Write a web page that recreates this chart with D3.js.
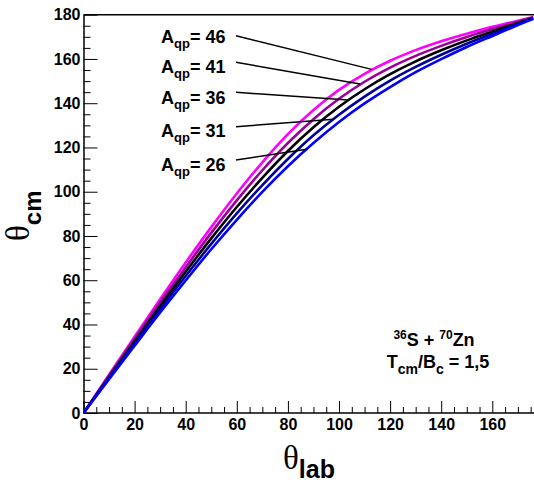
<!DOCTYPE html>
<html>
<head>
<meta charset="utf-8">
<script src="https://cdn.jsdelivr.net/npm/d3@7"></script>
<style>
  html, body { margin: 0; padding: 0; background: #fff; }
  svg { display: block; }
  text { font-family: "Liberation Sans", Arial, sans-serif; font-weight: bold; fill: #000; }
</style>
</head>
<body>
<svg id="chart" width="534" height="484"></svg>
<script>
// ---- data ----
const thetaLab = [0, 10, 20, 30, 40, 50, 60, 70, 80, 90, 100, 110, 120, 130, 140, 150, 160, 170, 176];
const cmA46 = [0, 17.3, 34.5, 51.4, 68.0, 84.0, 99.2, 113.3, 126.0, 136.9, 146.0, 153.3, 159.2, 164.0, 168.0, 171.4, 174.5, 177.3, 178.9];
const cmA41 = [0, 16.8, 33.5, 49.9, 65.9, 81.4, 96.1, 109.7, 122.0, 132.8, 142.0, 149.7, 156.1, 161.4, 165.9, 169.9, 173.5, 176.8, 178.7];
const cmA36 = [0, 16.3, 32.4, 48.4, 63.9, 78.9, 93.1, 106.3, 118.4, 129.1, 138.4, 146.3, 153.1, 158.9, 163.9, 168.4, 172.4, 176.3, 178.5];
const cmA31 = [0, 15.8, 31.4, 46.9, 61.9, 76.4, 90.2, 103.0, 114.8, 125.5, 134.8, 143.0, 150.2, 156.4, 161.9, 166.9, 171.4, 175.8, 178.3];
const cmA26 = [0, 15.3, 30.4, 45.4, 59.9, 74.0, 87.3, 99.9, 111.5, 122.0, 131.5, 139.9, 147.3, 154.0, 159.9, 165.4, 170.4, 175.3, 178.1];
const seriesNames = ["46", "41", "36", "31", "26"];
const seriesValues = [cmA46, cmA41, cmA36, cmA31, cmA26];
// points on each curve where the label pointer ends (θlab, θcm)
const pointerLab = [112.8, 108.2, 103.6, 97.8, 87.4];
const pointerCm  = [155.3, 148.7, 141.4, 132.7, 119.2];
const xTickValues = [0, 20, 40, 60, 80, 100, 120, 140, 160];
const yTickValues = [0, 20, 40, 60, 80, 100, 120, 140, 160, 180];

// ---- styles / layout ----
const colors = ["#ff00ff", "#990099", "#000000", "#000099", "#0000ff"];
const svg = d3.select("#chart");
const x = d3.scaleLinear().domain([0, 176]).range([83.5, 533.2]);
const y = d3.scaleLinear().domain([0, 180]).range([413, 14.7]);

// frame top line
svg.append("line").attr("x1", x(0)).attr("x2", 534).attr("y1", y(180)).attr("y2", y(180))
  .attr("stroke", "#000").attr("stroke-width", 1.5);

// minor ticks
const xMinor = d3.range(0, 177, 5).filter(v => v % 20 !== 0);
const yMinor = d3.range(0, 181, 5).filter(v => v % 20 !== 0);
svg.append("g").attr("transform", `translate(0,${y(0)})`)
  .call(d3.axisBottom(x).tickValues(xMinor).tickSize(-6).tickFormat(""))
  .call(g => g.select(".domain").remove())
  .selectAll("line").attr("stroke", "#000");
svg.append("g").attr("transform", `translate(${x(0)},0)`)
  .call(d3.axisLeft(y).tickValues(yMinor).tickSize(-7).tickFormat(""))
  .call(g => g.select(".domain").remove())
  .selectAll("line").attr("stroke", "#000");

// major axes
const xAxis = svg.append("g").attr("transform", `translate(0,${y(0)})`)
  .call(d3.axisBottom(x).tickValues(xTickValues).tickSize(-12).tickSizeOuter(0).tickPadding(6).tickFormat(d3.format("d")));
xAxis.select(".domain").attr("stroke", "#000").attr("stroke-width", 1.5).attr("d", `M${x(0)},0H534`);
xAxis.selectAll("text").style("font-size", "16px").style("font-family", "Liberation Sans, Arial, sans-serif").style("font-weight", "bold").attr("fill", "#000");
xAxis.selectAll("line").attr("stroke", "#000");

const yAxis = svg.append("g").attr("transform", `translate(${x(0)},0)`)
  .call(d3.axisLeft(y).tickValues(yTickValues).tickSize(-14).tickSizeOuter(0).tickPadding(3).tickFormat(d3.format("d")));
yAxis.select(".domain").attr("stroke", "#000").attr("stroke-width", 1.5);
yAxis.selectAll("text").style("font-size", "16px").style("font-family", "Liberation Sans, Arial, sans-serif").style("font-weight", "bold").attr("fill", "#000");
yAxis.selectAll("line").attr("stroke", "#000");

// curves
const clip = svg.append("clipPath").attr("id", "clip").append("rect")
  .attr("x", x(0)).attr("y", 0).attr("width", 534 - x(0)).attr("height", y(0));
const line = d3.line().x((d, i) => x(thetaLab[i])).y(d => y(d)).curve(d3.curveMonotoneX);
svg.append("g").attr("clip-path", "url(#clip)")
  .selectAll("path").data(seriesValues).join("path")
  .attr("d", d => line(d))
  .attr("fill", "none")
  .attr("stroke", (d, i) => colors[i])
  .attr("stroke-width", 2.6);

// labels with pointers
const labelBase = [42.5, 73, 104, 137, 170.5];
const lineStartY = [35.7, 62.3, 92.3, 126.7, 160];
seriesNames.forEach((name, i) => {
  svg.append("line")
    .attr("x1", 236).attr("y1", lineStartY[i])
    .attr("x2", x(pointerLab[i])).attr("y2", y(pointerCm[i]))
    .attr("stroke", "#000").attr("stroke-width", 1.5);
  const t = svg.append("text").attr("x", 161).attr("y", labelBase[i]).style("font-size", "18px");
  t.append("tspan").text("A");
  t.append("tspan").attr("dy", 5).style("font-size", "13px").text("qp");
  t.append("tspan").attr("dy", -5).text("= " + name);
});

// reaction annotation
const r1 = svg.append("text").attr("x", 434).attr("y", 346).attr("text-anchor", "middle").style("font-size", "18px");
r1.append("tspan").attr("dy", -7).style("font-size", "12px").text("36");
r1.append("tspan").attr("dy", 7).text("S + ");
r1.append("tspan").attr("dy", -7).style("font-size", "12px").text("70");
r1.append("tspan").attr("dy", 7).text("Zn");
const r2 = svg.append("text").attr("x", 438).attr("y", 368).attr("text-anchor", "middle").style("font-size", "18px");
r2.append("tspan").text("T");
r2.append("tspan").attr("dy", 6).style("font-size", "14px").text("cm");
r2.append("tspan").attr("dy", -6).text("/B");
r2.append("tspan").attr("dy", 6).style("font-size", "14px").text("c");
r2.append("tspan").attr("dy", -6).text(" = 1,5");

// axis titles
const xt = svg.append("text").attr("x", 283).attr("y", 469);
xt.append("tspan").style("font-family", "Liberation Serif, serif").style("font-weight", "normal").style("font-size", "33px").text("θ");
xt.append("tspan").attr("dy", 9).style("font-size", "25px").text("lab");

const yt = svg.append("text").attr("transform", "translate(29,241) rotate(-90)");
yt.append("tspan").style("font-family", "Liberation Serif, serif").style("font-weight", "normal").style("font-size", "33px").text("θ");
yt.append("tspan").attr("dy", 12).style("font-size", "24px").text("cm");
</script>
</body>
</html>
